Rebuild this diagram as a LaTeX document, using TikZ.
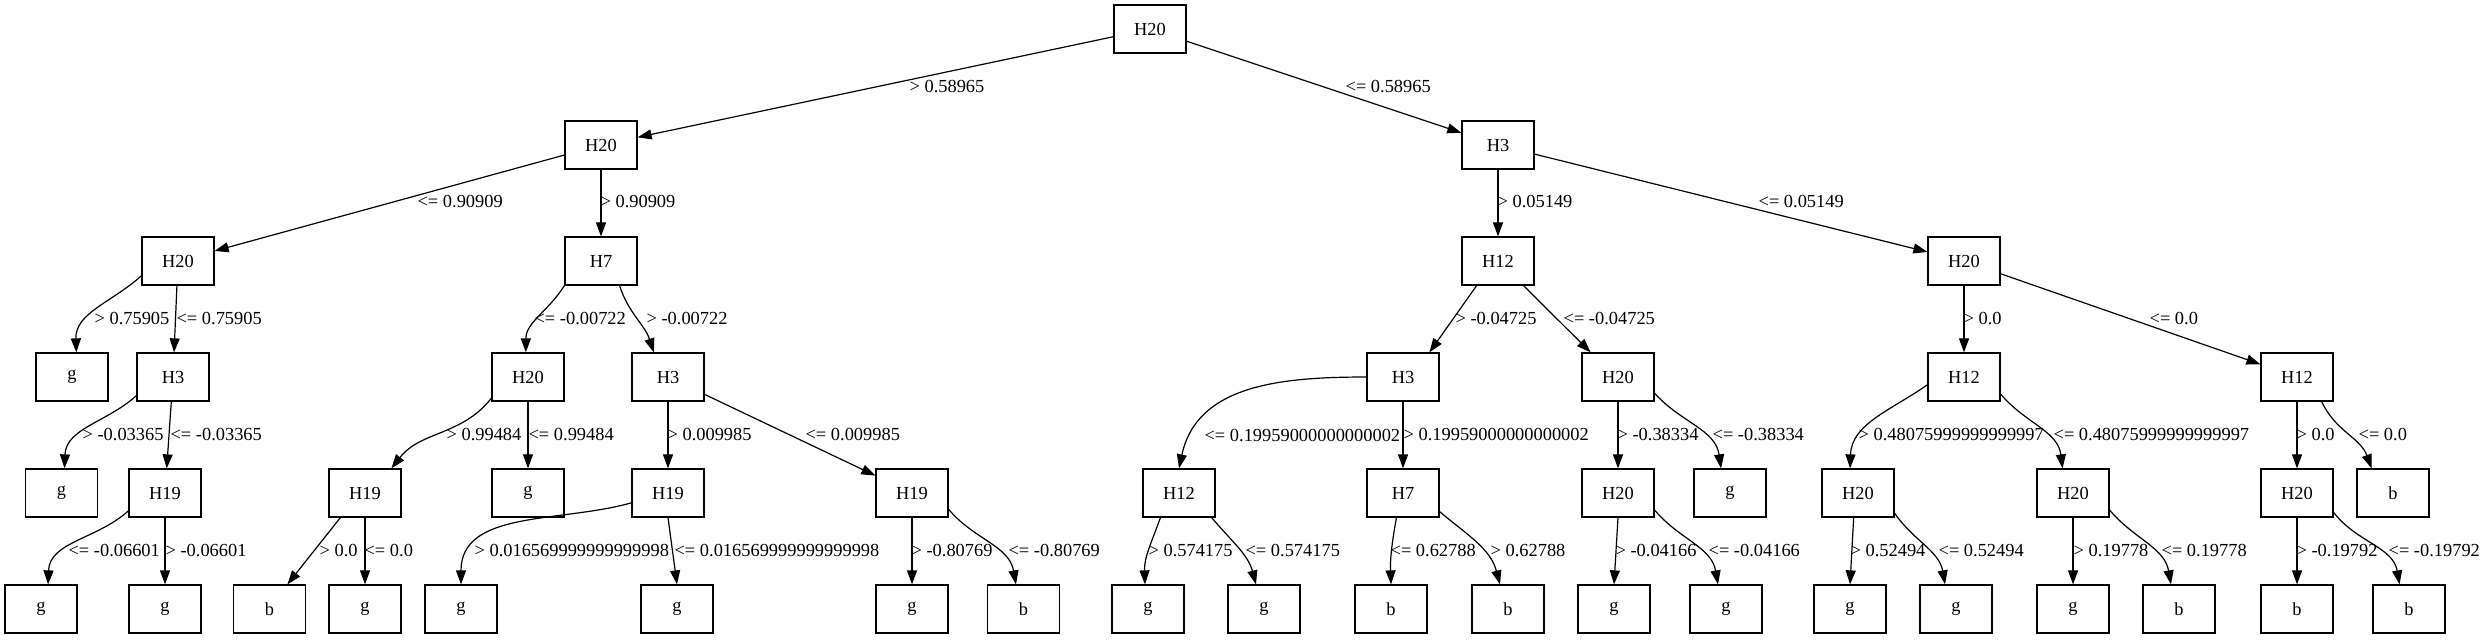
\documentclass[tikz,border=0pt]{standalone}
\usepackage{fontspec}
\setmainfont{Liberation Serif}
\usetikzlibrary{arrows.meta}

\begin{document}
\begin{tikzpicture}[x=0.5pt, y=0.5pt,
    box/.style = {draw, line width=0.65pt, minimum width=36pt, minimum height=24pt, inner sep=0pt, font=\fontsize{9.2}{11}\selectfont},
    lbl/.style = {anchor=west, inner sep=0pt, font=\fontsize{9.2}{11}\selectfont},
    arr/.style = {line width=0.6pt, -{Triangle[length=7pt, width=5pt]}}]
    \useasboundingbox (0,0) rectangle (2492,-639);

    % level 0 and 1
    \node[box] (r) at (1150,-29) {H20};
    \node[box] (a) at (601,-145) {H20};
    \node[box] (b) at (1498,-145) {H3};
    % level 2
    \node[box] (aa) at (178,-261) {H20};
    \node[box] (ab) at (601,-261) {H7};
    \node[box] (ba) at (1498,-261) {H12};
    \node[box] (bb) at (1964,-261) {H20};
    % level 3
    \node[box] (aaa) at (72,-377) {g};
    \node[box] (aab) at (173,-377) {H3};
    \node[box] (aba) at (528,-377) {H20};
    \node[box] (abb) at (668,-377) {H3};
    \node[box] (baa) at (1403,-377) {H3};
    \node[box] (bab) at (1618,-377) {H20};
    \node[box] (bba) at (1964,-377) {H12};
    \node[box] (bbb) at (2297,-377) {H12};
    % level 4
    \node[box] (aaba) at (61.5,-493) {g};
    \node[box] (aabb) at (165,-493) {H19};
    \node[box] (abaa) at (365,-493) {H19};
    \node[box] (abab) at (528,-493) {g};
    \node[box] (abba) at (668,-493) {H19};
    \node[box] (abbb) at (912,-493) {H19};
    \node[box] (baaa) at (1179,-493) {H12};
    \node[box] (baab) at (1403,-493) {H7};
    \node[box] (baba) at (1618,-493) {H20};
    \node[box] (babb) at (1730,-493) {g};
    \node[box] (bbaa) at (1858,-493) {H20};
    \node[box] (bbab) at (2073,-493) {H20};
    \node[box] (bbba) at (2297,-493) {H20};
    \node[box] (bbbb) at (2393,-493) {b};
    % level 5
    \node[box] (aabba) at (41,-609) {g};
    \node[box] (aabbb) at (165,-609) {g};
    \node[box] (abaaa) at (269.5,-609) {b};
    \node[box] (abaab) at (365,-609) {g};
    \node[box] (abbaa) at (461,-609) {g};
    \node[box] (abbab) at (677,-609) {g};
    \node[box] (abbba) at (912,-609) {g};
    \node[box] (abbbb) at (1023.5,-609) {b};
    \node[box] (baaaa) at (1148,-609) {g};
    \node[box] (baaab) at (1264,-609) {g};
    \node[box] (baaba) at (1391,-609) {b};
    \node[box] (baabb) at (1508,-609) {b};
    \node[box] (babaa) at (1614,-609) {g};
    \node[box] (babab) at (1726,-609) {g};
    \node[box] (bbaaa) at (1850,-609) {g};
    \node[box] (bbaab) at (1956,-609) {g};
    \node[box] (bbaba) at (2073,-609) {g};
    \node[box] (bbabb) at (2179,-609) {b};
    \node[box] (bbbaa) at (2297,-609) {b};
    \node[box] (bbbab) at (2409,-609) {b};

    \draw[arr] (r) -- (a) node[lbl] at (909,-87) {> 0.58965};
    \draw[arr] (r) -- (b) node[lbl] at (1345,-87) {<= 0.58965};

    \draw[arr] (a) -- (aa) node[lbl] at (417,-202) {<= 0.90909};
    \draw[arr] (a) -- (ab) node[lbl] at (600,-202) {> 0.90909};
    \draw[arr] (b) -- (ba) node[lbl] at (1497,-202) {> 0.05149};
    \draw[arr] (b) -- (bb) node[lbl] at (1758,-202) {<= 0.05149};

    \draw[arr] (aa.202) to[out=222, in=92] (aaa.80) node[lbl] at (94,-318) {> 0.75905};
    \draw[arr] (aa) -- (aab) node[lbl] at (176,-318) {<= 0.75905};
    \draw[arr] (ab.south west) to[out=238, in=90] (aba.95) node[lbl] at (534,-318) {<= -0.00722};
    \draw[arr] (ab.-53) to[out=-72, in=108] (abb.120) node[lbl] at (646,-318) {> -0.00722};
    \draw[arr] (ba.229) -- (baa.43) node[lbl] at (1455,-318) {> -0.04725};
    \draw[arr] (ba.-44) -- (bab.138) node[lbl] at (1563,-318) {<= -0.04725};
    \draw[arr] (bb) -- (bba) node[lbl] at (1963,-318) {> 0.0};
    \draw[arr] (bb) -- (bbb) node[lbl] at (2149,-318) {<= 0.0};

    \draw[arr] (aab.207) to[out=222, in=88] (aaba.83) node[lbl] at (82,-434) {> -0.03365};
    \draw[arr] (aab) -- (aabb) node[lbl] at (170,-434) {<= -0.03365};
    \draw[arr] (aba.210) to[out=232, in=52] (abaa.43) node[lbl] at (446,-434) {> 0.99484};
    \draw[arr] (aba) -- (abab) node[lbl] at (528,-434) {<= 0.99484};
    \draw[arr] (abb) -- (abba) node[lbl] at (667,-434) {> 0.009985};
    \draw[arr] (abb) -- (abbb) node[lbl] at (805,-434) {<= 0.009985};
    \draw[arr] (baa.west) to[out=180, in=78, looseness=1.05] (baaa.north) node[lbl] at (1204,-435) {<= 0.19959000000000002};
    \draw[arr] (baa) -- (baab) node[lbl] at (1403,-434) {> 0.19959000000000002};
    \draw[arr] (bab) -- (baba) node[lbl] at (1617,-434) {> -0.38334};
    \draw[arr] (bab.-24) to[out=-48, in=98] (babb.110) node[lbl] at (1712,-434) {<= -0.38334};
    \draw[arr] (bba.192) to[out=215, in=88] (bbaa.108) node[lbl] at (1858,-434) {> 0.48075999999999997};
    \draw[arr] (bba.-25) to[out=-50, in=97] (bbab.113) node[lbl] at (2053,-434) {<= 0.48075999999999997};
    \draw[arr] (bbb) -- (bbba) node[lbl] at (2296,-434) {> 0.0};
    \draw[arr] (bbb.-45) to[out=-65, in=110] (bbbb.131) node[lbl] at (2358,-434) {<= 0.0};

    \draw[arr] (aabb.206) to[out=222, in=88] (aabba.74) node[lbl] at (68,-550) {<= -0.06601};
    \draw[arr] (aabb) -- (aabbb) node[lbl] at (165,-550) {> -0.06601};
    \draw[arr] (abaa.225) -- (abaaa.54) node[lbl] at (319,-550) {> 0.0};
    \draw[arr] (abaa) -- (abaab) node[lbl] at (364,-550) {<= 0.0};
    \draw[arr] (abba.195) .. controls (560,-523) and (461,-510) .. (abbaa.north) node[lbl] at (474,-550) {> 0.016569999999999998};
    \draw[arr] (abba.south) -- (abbab.north) node[lbl] at (674,-550) {<= 0.016569999999999998};
    \draw[arr] (abbb) -- (abbba) node[lbl] at (911,-550) {> -0.80769};
    \draw[arr] (abbb.-24) to[out=-50, in=100] (abbbb.107) node[lbl] at (1008,-550) {<= -0.80769};
    \draw[arr] (baaa.233) to[out=250, in=92] (baaaa.97) node[lbl] at (1148,-550) {> 0.574175};
    \draw[arr] (baaa.-37) to[out=-50, in=105] (baaab.108) node[lbl] at (1245,-550) {<= 0.574175};
    \draw[arr] (baab.255) to[out=260, in=92] (baaba.north) node[lbl] at (1390,-550) {<= 0.62788};
    \draw[arr] (baab.-27) to[out=-40, in=105] (baabb.108) node[lbl] at (1490,-550) {> 0.62788};
    \draw[arr] (baba.south) -- (babaa.north) node[lbl] at (1615,-550) {> -0.04166};
    \draw[arr] (baba.-25) to[out=-50, in=100] (babab.108) node[lbl] at (1708,-550) {<= -0.04166};
    \draw[arr] (bbaa.260) -- (bbaaa.north) node[lbl] at (1850,-550) {> 0.52494};
    \draw[arr] (bbaa.-29) to[out=-55, in=100] (bbaab.114) node[lbl] at (1938,-550) {<= 0.52494};
    \draw[arr] (bbab) -- (bbaba) node[lbl] at (2073,-550) {> 0.19778};
    \draw[arr] (bbab.-25) to[out=-50, in=100] (bbabb.108) node[lbl] at (2161,-550) {<= 0.19778};
    \draw[arr] (bbba) -- (bbbaa) node[lbl] at (2296,-550) {> -0.19792};
    \draw[arr] (bbba.-28) to[out=-52, in=100] (bbbab.111) node[lbl] at (2388,-550) {<= -0.19792};
\end{tikzpicture}
\end{document}
